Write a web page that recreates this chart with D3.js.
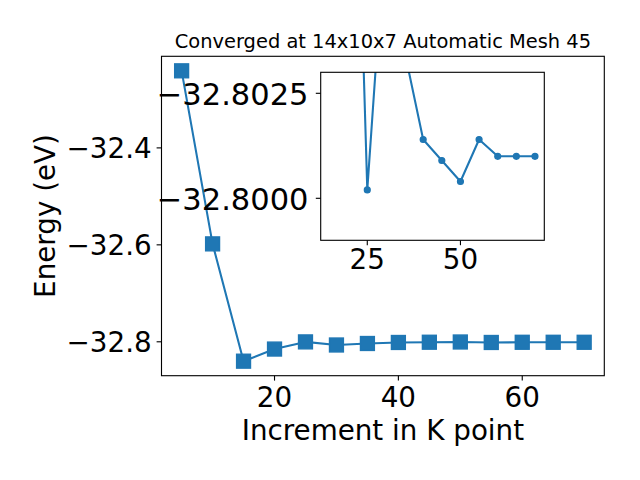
<!DOCTYPE html>
<html>
<head>
<meta charset="utf-8">
<script src="https://cdn.jsdelivr.net/npm/d3@7"></script>
<style>
  html, body { margin: 0; padding: 0; background: #fff; }
  svg { display: block; }
  text { font-family: "DejaVu Sans", sans-serif; fill: #000; }
</style>
</head>
<body>
<svg id="chart" width="640" height="480"></svg>
<script>
// ---- data ----
const kIncrement = [5, 10, 15, 20, 25, 30, 35, 40, 45, 50, 55, 60, 65, 70];
const energy = [-32.241, -32.598, -32.840, -32.815, -32.8002, -32.8066, -32.8035,
                -32.8014, -32.8009, -32.8004, -32.8014, -32.8010, -32.8010, -32.8010];
const insetFirstK = 20;            // inset shows the points from k = 20 on
const mainXTicks = [20, 40, 60];
const mainYTicks = [-32.4, -32.6, -32.8];
const insetXTicks = [25, 50];
const insetYTicks = [-32.8025, -32.8000];
const insetXLim = [12.5, 72.5];
const insetYLim = [-32.799, -32.803];
const titleText = "Converged at 14x10x7 Automatic Mesh 45";
const xLabelText = "Increment in K point";
const yLabelText = "Energy (eV)";

// ---- layout ----
const svg = d3.select("#chart");
const color = "#1f77b4";
const fs = 27.78, insetYFs = 30.5, titleFs = 19.44;
const tickLen = 4.9, tickPad = 4.9, lw = 1.11;
const minus = s => s.replace("-", "\u2212");

const M = { left: 161.5, right: 604.3, top: 56.3, bottom: 375.7 };
const I = { left: 320.7, right: 544.3, top: 72.3, bottom: 240.3 };

function pad(ext) { const r = ext[1] - ext[0]; return [ext[0] - 0.05 * r, ext[1] + 0.05 * r]; }
const x = d3.scaleLinear().domain(pad(d3.extent(kIncrement))).range([M.left, M.right]);
const y = d3.scaleLinear().domain(pad(d3.extent(energy))).range([M.bottom, M.top]);

const pts = kIncrement.map((k, i) => ({ k, e: energy[i] }));
const insetPts = pts.filter(d => d.k >= insetFirstK);

// clip paths
const defs = svg.append("defs");
defs.append("clipPath").attr("id", "mainClip").append("rect")
  .attr("x", M.left).attr("y", M.top).attr("width", M.right - M.left).attr("height", M.bottom - M.top);
defs.append("clipPath").attr("id", "insetClip").append("rect")
  .attr("x", I.left).attr("y", I.top).attr("width", I.right - I.left).attr("height", I.bottom - I.top);

// main plot
const gMain = svg.append("g");
const gData = gMain.append("g").attr("clip-path", "url(#mainClip)");
gData.append("path").datum(pts)
  .attr("d", d3.line().x(d => x(d.k)).y(d => y(d.e)))
  .attr("fill", "none").attr("stroke", color).attr("stroke-width", 2.08).attr("stroke-linejoin", "round");
const ms = 13.9;
gData.selectAll("rect.m").data(pts).join("rect").attr("class", "m")
  .attr("x", d => x(d.k) - ms / 2).attr("y", d => y(d.e) - ms / 2)
  .attr("width", ms).attr("height", ms)
  .attr("fill", color).attr("stroke", color).attr("stroke-width", 1.39);

// main ticks
mainXTicks.forEach(t => {
  gMain.append("line").attr("x1", x(t)).attr("x2", x(t)).attr("y1", M.bottom).attr("y2", M.bottom + tickLen)
    .attr("stroke", "#000").attr("stroke-width", lw);
  gMain.append("text").attr("x", x(t)).attr("y", M.bottom + tickLen + tickPad + 0.76 * fs)
    .attr("text-anchor", "middle").attr("font-size", fs).text(minus(String(t)));
});
mainYTicks.forEach(t => {
  gMain.append("line").attr("x1", M.left - tickLen).attr("x2", M.left).attr("y1", y(t)).attr("y2", y(t))
    .attr("stroke", "#000").attr("stroke-width", lw);
  gMain.append("text").attr("x", M.left - tickLen - tickPad).attr("y", y(t) + 10)
    .attr("text-anchor", "end").attr("font-size", fs).text(minus(t.toFixed(1)));
});
gMain.append("rect").attr("x", M.left).attr("y", M.top).attr("width", M.right - M.left).attr("height", M.bottom - M.top)
  .attr("fill", "none").attr("stroke", "#000").attr("stroke-width", lw);

// labels
svg.append("text").attr("x", (M.left + M.right) / 2).attr("y", M.top - 8.33)
  .attr("text-anchor", "middle").attr("font-size", titleFs).text(titleText);
svg.append("text").attr("x", (M.left + M.right) / 2).attr("y", 440)
  .attr("text-anchor", "middle").attr("font-size", fs).text(xLabelText);
svg.append("text").attr("transform", `translate(54.5, ${(M.top + M.bottom) / 2}) rotate(-90)`)
  .attr("text-anchor", "middle").attr("font-size", fs).text(yLabelText);

// inset
const xi = d3.scaleLinear().domain(insetXLim).range([I.left, I.right]);
const yi = d3.scaleLinear().domain(insetYLim).range([I.bottom, I.top]);
const gIn = svg.append("g");
gIn.append("rect").attr("x", I.left).attr("y", I.top).attr("width", I.right - I.left).attr("height", I.bottom - I.top)
  .attr("fill", "#fff");
const gInData = gIn.append("g").attr("clip-path", "url(#insetClip)");
gInData.append("path").datum(insetPts)
  .attr("d", d3.line().x(d => xi(d.k)).y(d => yi(d.e)))
  .attr("fill", "none").attr("stroke", color).attr("stroke-width", 2.08).attr("stroke-linejoin", "round");
gInData.selectAll("circle").data(insetPts).join("circle")
  .attr("cx", d => xi(d.k)).attr("cy", d => yi(d.e)).attr("r", 2.9)
  .attr("fill", color).attr("stroke", color).attr("stroke-width", 1.39);
insetXTicks.forEach(t => {
  gIn.append("line").attr("x1", xi(t)).attr("x2", xi(t)).attr("y1", I.bottom).attr("y2", I.bottom + tickLen)
    .attr("stroke", "#000").attr("stroke-width", lw);
  gIn.append("text").attr("x", xi(t)).attr("y", I.bottom + 29)
    .attr("text-anchor", "middle").attr("font-size", fs).text(String(t));
});
insetYTicks.forEach(t => {
  gIn.append("line").attr("x1", I.left - tickLen).attr("x2", I.left).attr("y1", yi(t)).attr("y2", yi(t))
    .attr("stroke", "#000").attr("stroke-width", lw);
  gIn.append("text").attr("x", 308.5).attr("y", yi(t) + 11.5)
    .attr("text-anchor", "end").attr("font-size", insetYFs).text(minus(t.toFixed(4)));
});
gIn.append("rect").attr("x", I.left).attr("y", I.top).attr("width", I.right - I.left).attr("height", I.bottom - I.top)
  .attr("fill", "none").attr("stroke", "#000").attr("stroke-width", lw);
</script>
</body>
</html>
